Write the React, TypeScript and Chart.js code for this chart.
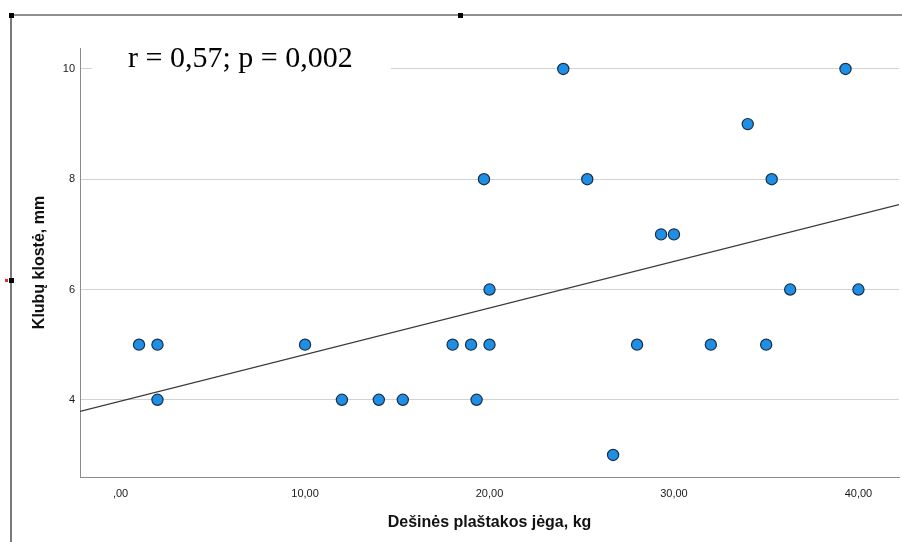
import React, { useEffect, useRef } from "react";
import { Chart, registerables } from "chart.js";

Chart.register(...registerables);

const handStrengthKg = [1, 2, 2, 10, 12, 14, 15.3, 18, 19, 19.3, 19.7, 20, 20, 24, 25.3, 26.7, 28, 29.3, 30, 32, 34, 35, 35.3, 36.3, 39.3, 40];
const hipFoldMm = [5, 5, 4, 5, 4, 4, 4, 5, 5, 4, 8, 6, 5, 10, 8, 3, 5, 7, 7, 5, 9, 5, 8, 6, 10, 6];

const fitLineX = [-2.2, 42.2];
const fitLineY = [3.79, 7.54];

const xTickValues = [0, 10, 20, 30, 40];
const xTickLabels = [",00", "10,00", "20,00", "30,00", "40,00"];
const yTickValues = [4, 6, 8, 10];
const yTickLabels = ["4", "6", "8", "10"];

const annotationText = "r = 0,57; p = 0,002";
const xTitle = "Dešinės plaštakos jėga, kg";
const yTitle = "Klubų klostė, mm";

const decorPlugin = {
  id: "decor",
  beforeDatasetsDraw(chart: any) {
    const ctx = chart.ctx;
    ctx.save();
    ctx.fillStyle = "#ffffff";
    ctx.fillRect(92, 28, 299, 60);
    ctx.restore();
  },
  afterDraw(chart: any) {
    const ctx = chart.ctx;
    ctx.save();
    ctx.fillStyle = "#000000";
    ctx.font = "30px 'Liberation Serif', 'Times New Roman', serif";
    ctx.textBaseline = "alphabetic";
    ctx.textAlign = "left";
    ctx.fillText(annotationText, 128, 67);
    // outer frame
    ctx.strokeStyle = "#222222";
    ctx.lineWidth = 1.2;
    ctx.beginPath();
    ctx.moveTo(11, 15);
    ctx.lineTo(902, 15);
    ctx.moveTo(11, 15);
    ctx.lineTo(11, 542);
    ctx.stroke();
    ctx.fillStyle = "#000000";
    ctx.fillRect(9, 13, 5, 5);
    ctx.fillRect(458, 13, 5, 5);
    ctx.fillRect(9, 278, 5, 5);
    ctx.fillStyle = "#e03030";
    ctx.fillRect(5, 279, 3, 3);
    ctx.restore();
  },
};

export default function App() {
  const ref = useRef<HTMLCanvasElement>(null);
  useEffect(() => {
    document.body.style.margin = "0";
    const canvas = ref.current!;
    const points = handStrengthKg.map((x, i) => ({ x, y: hipFoldMm[i] }));
    const fit = fitLineX.map((x, i) => ({ x, y: fitLineY[i] }));
    const chart = new Chart(canvas, {
      type: "scatter",
      data: {
        datasets: [
          {
            type: "line",
            data: fit,
            borderColor: "#3a3a3a",
            borderWidth: 1.3,
            pointRadius: 0,
            showLine: true,
            fill: false,
            order: 2,
          } as any,
          {
            data: points,
            backgroundColor: "#1e8fe4",
            borderColor: "#1b2e48",
            borderWidth: 1.2,
            pointRadius: 5.6,
            pointHoverRadius: 5.6,
            order: 1,
          },
        ],
      },
      options: {
        animation: false,
        responsive: false,
        devicePixelRatio: 1,
        layout: { autoPadding: false, padding: { top: 48, right: 3, left: 0, bottom: 0 } },
        plugins: { legend: { display: false }, tooltip: { enabled: false } },
        scales: {
          x: {
            type: "linear",
            min: -2.2,
            max: 42.2,
            afterBuildTicks: (s: any) => {
              s.ticks = xTickValues.map((v) => ({ value: v }));
            },
            afterFit: (s: any) => {
              s.height = 65;
              s.paddingRight = 0;
              s.paddingLeft = 0;
            },
            ticks: {
              padding: 10,
              color: "#1a1a1a",
              font: { family: "'Liberation Sans', Arial, sans-serif", size: 11 },
              callback: (v: any) => {
                const i = xTickValues.indexOf(Number(v));
                return i >= 0 ? xTickLabels[i] : "";
              },
            },
            grid: { display: false, drawTicks: false },
            border: { display: true, color: "#8c8c8c", width: 1 },
            title: {
              display: true,
              text: xTitle,
              color: "#111111",
              font: { family: "'Liberation Sans', Arial, sans-serif", size: 16, weight: "bold" },
              padding: { top: 0, bottom: 10 },
            },
          },
          y: {
            type: "linear",
            min: 2.6,
            max: 10.38,
            afterBuildTicks: (s: any) => {
              s.ticks = yTickValues.map((v) => ({ value: v }));
            },
            afterFit: (s: any) => {
              s.width = 80;
              s.paddingTop = 0;
              s.paddingBottom = 0;
            },
            ticks: {
              padding: 5,
              color: "#1a1a1a",
              font: { family: "'Liberation Sans', Arial, sans-serif", size: 11 },
              callback: (v: any) => {
                const i = yTickValues.indexOf(Number(v));
                return i >= 0 ? yTickLabels[i] : "";
              },
            },
            grid: { display: true, drawTicks: false, color: "#d2d2d2", lineWidth: 1 },
            border: { display: true, color: "#8c8c8c", width: 1 },
            title: {
              display: true,
              text: yTitle,
              color: "#111111",
              font: { family: "'Liberation Sans', Arial, sans-serif", size: 16, weight: "bold" },
              padding: { top: 30, bottom: 0 },
            },
          },
        },
      },
      plugins: [decorPlugin],
    });
    return () => chart.destroy();
  }, []);
  return (
    <div style={{ width: 902, height: 542, background: "#ffffff" }}>
      <canvas ref={ref} width={902} height={542} style={{ display: "block" }} />
    </div>
  );
}
